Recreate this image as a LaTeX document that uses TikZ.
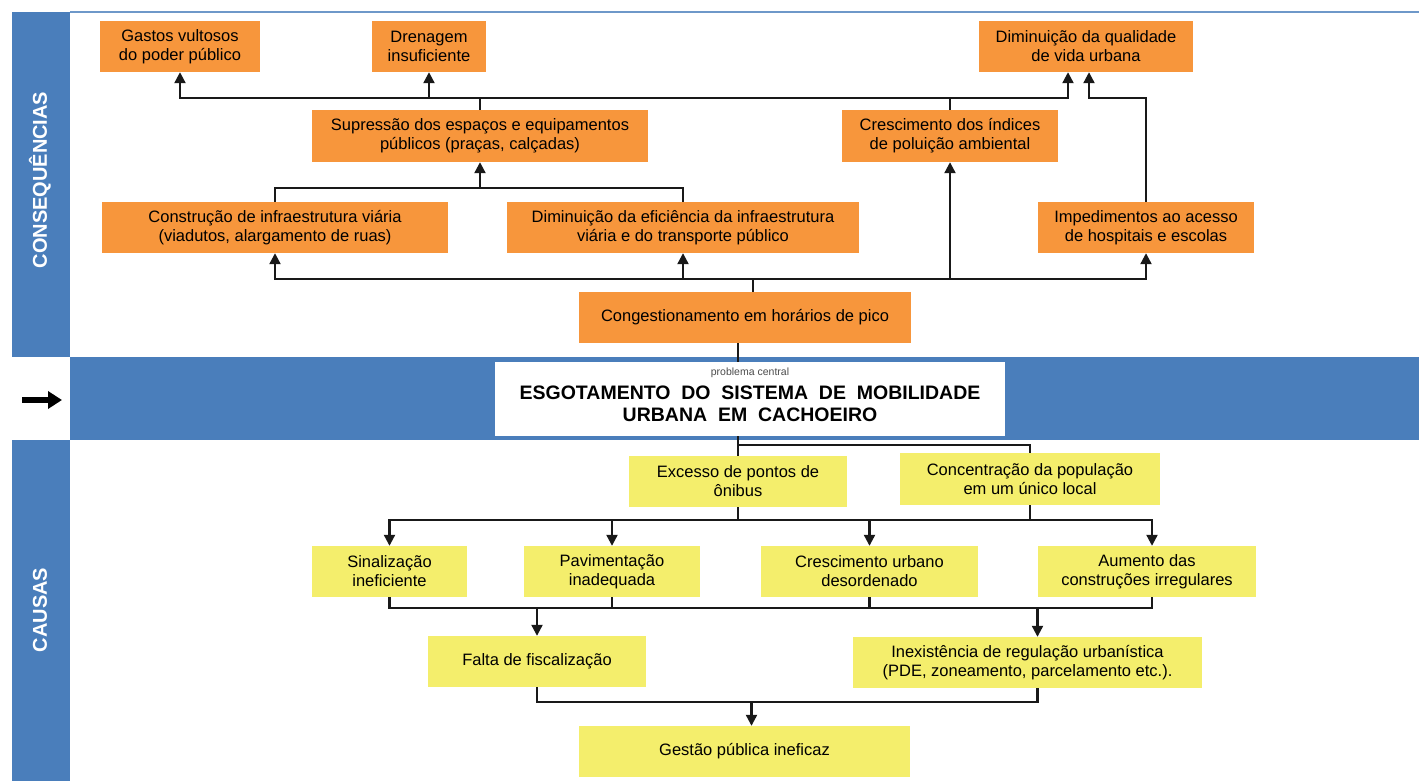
\documentclass[tikz,border=0pt]{standalone}
\usepackage{fontspec}
\setmainfont{Liberation Sans}
\usetikzlibrary{arrows.meta,calc}

\definecolor{bandblue}{HTML}{4A7EBB}
\definecolor{consorange}{HTML}{F7963C}
\definecolor{causyellow}{HTML}{F4EE6C}

\tikzset{
  box/.style={inner sep=0pt, align=center, minimum height=51pt,
    font=\fontsize{16.5}{19}\selectfont},
  cons/.style={box, fill=consorange},
  caus/.style={box, fill=causyellow},
  link/.style={line width=2.2pt, draw=black!90},
  arr/.style={link, -{Triangle[length=11pt,width=11pt]}},
  sidelabel/.style={rotate=90, text=white, font=\fontsize{20}{20}\selectfont\bfseries}
}

\begin{document}
\begin{tikzpicture}[x=1pt,y=-1pt]
    \useasboundingbox (0,0) rectangle (1419,781);

    %% bands
    \fill[bandblue] (12,12) rectangle (70,357);
    \fill[bandblue] (12,440) rectangle (70,781);
    \fill[bandblue] (70,357) rectangle (1419,440);
    \draw[bandblue!80, line width=1.5pt] (70,12) -- (1419,12);
    \node[sidelabel] (conslabel) at (40,180) {CONSEQUÊNCIAS};
    \node[sidelabel] (causlabel) at (40,610) {CAUSAS};
    \coordinate (pointa) at (22,400);
    \coordinate (pointb) at (62,400);
    \draw[line width=6pt, -{Triangle[length=14pt,width=17pt]}] (pointa) -- (pointb);

    %% consequences
    \node[cons, minimum width=160pt] (gastos) at (180,46.5) {Gastos vultosos\\do poder público};
    \node[cons, minimum width=114pt] (drenagem) at (429,46.5) {Drenagem\\insuficiente};
    \node[cons, minimum width=214pt] (qualidade) at (1086,46.5) {Diminuição da qualidade\\de vida urbana};
    \node[cons, minimum width=336pt, minimum height=52pt] (supressao) at (480,136) {Supressão dos espaços e equipamentos\\públicos (praças, calçadas)};
    \node[cons, minimum width=216pt, minimum height=52pt] (poluicao) at (950,136) {Crescimento dos índices\\de poluição ambiental};
    \node[cons, minimum width=346pt] (construcao) at (275,227.5) {Construção de infraestrutura viária\\(viadutos, alargamento de ruas)};
    \node[cons, minimum width=352pt] (eficiencia) at (683,227.5) {Diminuição da eficiência da infraestrutura\\viária e do transporte público};
    \node[cons, minimum width=216pt] (impedimentos) at (1146,227.5) {Impedimentos ao acesso\\de hospitais e escolas};
    \node[cons, minimum width=332pt] (congest) at (745,317.5) {Congestionamento em horários de pico};

    %% central problem
    \node[fill=white, minimum width=510pt, minimum height=74pt, inner sep=0pt] (central) at (750,399) {};
    \node[text=black!70, font=\fontsize{10.5}{11}\selectfont] (centraltag) at (750,373) {problema central};
    \node[align=center, font=\fontsize{19.5}{22.5}\selectfont\bfseries] (centraltitle) at (750,404)
      {ESGOTAMENTO\ \ DO\ \ SISTEMA\ \ DE\ \ MOBILIDADE\\URBANA\ \ EM\ \ CACHOEIRO};

    %% causes
    \node[caus, minimum width=218pt] (excesso) at (738,481.5) {Excesso de pontos de\\ônibus};
    \node[caus, minimum width=260pt, minimum height=52pt] (concentracao) at (1030,479) {Concentração da população\\em um único local};
    \node[caus, minimum width=155pt] (sinalizacao) at (389.5,571.5) {Sinalização\\ineficiente};
    \node[caus, minimum width=176pt] (pavimentacao) at (612,571.5) {Pavimentação\\inadequada};
    \node[caus, minimum width=217pt] (crescimento) at (869.5,571.5) {Crescimento urbano\\desordenado};
    \node[caus, minimum width=218pt] (aumento) at (1147,571.5) {Aumento das\\construções irregulares};
    \node[caus, minimum width=218pt] (falta) at (537,661.5) {Falta de fiscalização};
    \node[caus, minimum width=349pt] (inexistencia) at (1027.5,662.5) {Inexistência de regulação urbanística\\(PDE, zoneamento, parcelamento etc.).};
    \node[caus, minimum width=331pt] (gestao) at (744.5,751.5) {Gestão pública ineficaz};

    %% bus lines
    \coordinate (busa) at (0,98);
    \coordinate (busb) at (0,188);
    \coordinate (busc) at (0,279);
    \coordinate (busd) at (0,445);
    \coordinate (buse) at (0,520);
    \coordinate (busf) at (0,608);
    \coordinate (busg) at (0,702);

    %% consequences connectors
    \draw[link] (supressao.north) -- (supressao.north |- busa) -- (poluicao.north |- busa) -- (poluicao.north);
    \draw[arr] (supressao.north |- busa) -| (gastos.south);
    \draw[arr] (supressao.north |- busa) -| (drenagem.south);
    \draw[arr] (poluicao.north |- busa) -| ([xshift=-18pt]qualidade.south);
    \draw[arr] (impedimentos.north) |- ([xshift=3pt]qualidade.south |- busa) -- ([xshift=3pt]qualidade.south);

    \draw[link] (construcao.north) |- (busb -| eficiencia.north) -- (eficiencia.north);
    \draw[arr] (supressao.south |- busb) -- (supressao.south);

    \draw[link] ([xshift=8pt]congest.north) -- ([xshift=8pt]congest.north |- busc);
    \draw[arr] ([xshift=8pt]congest.north |- busc) -| (construcao.south);
    \draw[arr] ([xshift=8pt]congest.north |- busc) -| (impedimentos.south);
    \draw[arr] (eficiencia.south |- busc) -- (eficiencia.south);
    \draw[arr] (poluicao.south |- busc) -- (poluicao.south);
    \draw[link] ([xshift=-7pt]congest.south) -- ([xshift=-7pt]congest.south |- central.north);

    %% causes connectors
    \draw[link] (central.south -| excesso.north) -- (excesso.north);
    \draw[link] (excesso.north |- busd) -| (concentracao.north);

    \draw[link] (excesso.south) -- (excesso.south |- buse);
    \draw[link] (concentracao.south) -- (concentracao.south |- buse);
    \draw[arr] (excesso.south |- buse) -| (sinalizacao.north);
    \draw[arr] (excesso.south |- buse) -| ([xshift=5pt]aumento.north);
    \draw[arr] (pavimentacao.north |- buse) -- (pavimentacao.north);
    \draw[arr] (crescimento.north |- buse) -- (crescimento.north);

    \draw[link] (sinalizacao.south) |- ([xshift=5pt]aumento.south |- busf) -- ([xshift=5pt]aumento.south);
    \draw[link] (pavimentacao.south) -- (pavimentacao.south |- busf);
    \draw[link] (crescimento.south) -- (crescimento.south |- busf);
    \draw[arr] (falta.north |- busf) -- (falta.north);
    \draw[arr] ([xshift=10pt]inexistencia.north |- busf) -- ([xshift=10pt]inexistencia.north);

    \draw[link] (falta.south) |- ([xshift=10pt]inexistencia.south |- busg) -- ([xshift=10pt]inexistencia.south);
    \draw[arr] ([xshift=7pt]gestao.north |- busg) -- ([xshift=7pt]gestao.north);
\end{tikzpicture}
\end{document}
